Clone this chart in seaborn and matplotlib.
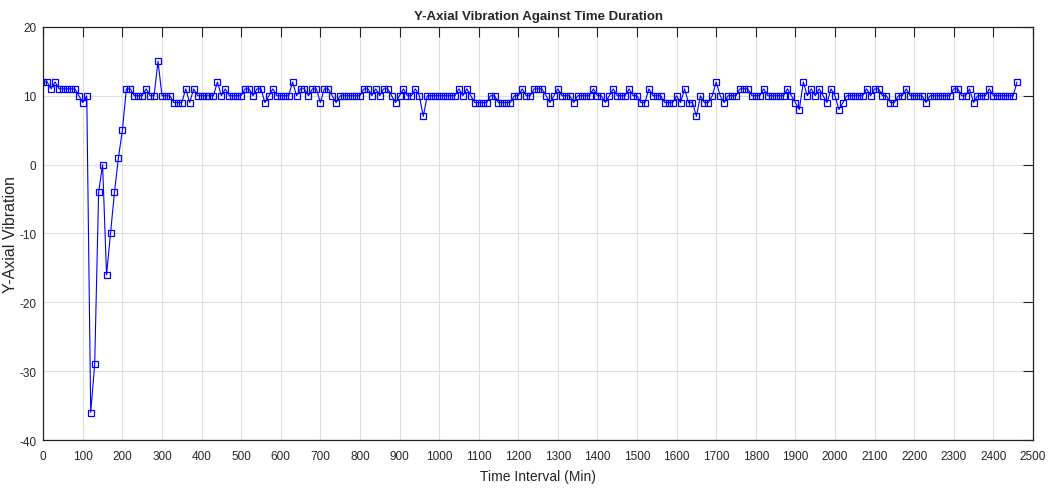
import numpy as np
import pandas as pd
import matplotlib
matplotlib.use('Agg')
import matplotlib.pyplot as plt
import seaborn as sns

# Time axis: one reading every 10 minutes
time_min = list(range(0, 2470, 10))

# Y-axial vibration readings
vib_0_290 = [12, 12, 11, 12, 11, 11, 11, 11, 11, 10, 9, 10,
             -36, -29, -4, 0, -16, -10, -4, 1, 5, 11, 11, 10, 10, 10, 11, 10, 10, 15]
vib_300_590 = [10, 10, 10, 9, 9, 9, 11, 9, 11, 10, 10, 10, 10, 10, 12, 10, 11, 10, 10, 10,
               10, 11, 11, 10, 11, 11, 9, 10, 11, 10]
vib_600_890 = [10, 10, 10, 12, 10, 11, 11, 10, 11, 11, 9, 11, 11, 10, 9, 10, 10, 10, 10, 10,
               10, 11, 11, 10, 11, 10, 11, 11, 10, 9]
vib_900_1190 = [10, 11, 10, 10, 11, 10, 7, 10, 10, 10, 10, 10, 10, 10, 10, 11, 10, 11, 10, 9,
                9, 9, 9, 10, 10, 9, 9, 9, 9, 10]
vib_1200_1490 = [10, 11, 10, 10, 11, 11, 11, 10, 9, 10, 11, 10, 10, 10, 9, 10, 10, 10, 10, 11,
                 10, 10, 9, 10, 11, 10, 10, 10, 11, 10]
vib_1500_1790 = [10, 9, 9, 11, 10, 10, 10, 9, 9, 9, 10, 9, 11, 9, 9, 7, 10, 9, 9, 10,
                 12, 10, 9, 10, 10, 10, 11, 11, 11, 10]
vib_1800_2090 = [10, 10, 11, 10, 10, 10, 10, 10, 11, 10, 9, 8, 12, 10, 11, 10, 11, 10, 9, 11,
                 10, 8, 9, 10, 10, 10, 10, 10, 11, 10]
vib_2100_2460 = [11, 11, 10, 10, 9, 9, 10, 10, 11, 10, 10, 10, 10, 9, 10, 10, 10, 10, 10, 10,
                 11, 11, 10, 10, 11, 9, 10, 10, 10, 11, 10, 10, 10, 10, 10, 10, 12]

vibration = (vib_0_290 + vib_300_590 + vib_600_890 + vib_900_1190 + vib_1200_1490
             + vib_1500_1790 + vib_1800_2090 + vib_2100_2460)

df = pd.DataFrame({'time': time_min[:len(vibration)], 'vib': vibration})

sns.set_style('white')
plt.rcParams['font.family'] = ['Liberation Sans', 'DejaVu Sans']
plt.rcParams['axes.unicode_minus'] = False

fig, ax = plt.subplots(figsize=(10.54, 4.89), dpi=100)
fig.subplots_adjust(left=0.041, right=0.980, top=0.943, bottom=0.098)

sns.lineplot(data=df, x='time', y='vib', ax=ax, color='#0000ff', linewidth=0.8,
             marker='s', markersize=5, markerfacecolor='none',
             markeredgecolor='#0000ff', markeredgewidth=0.9)

ax.set_xlim(0, 2500)
ax.set_ylim(-40, 20)
ax.set_xticks(np.arange(0, 2501, 100))
ax.set_yticks(np.arange(-40, 21, 10))
ax.grid(True, color='#e0e0e0', linewidth=0.8)
ax.tick_params(direction='in', top=True, right=True, labelsize=8.5,
               length=7, width=0.8, color='#222222')
ax.tick_params(axis='x', pad=7)
ax.tick_params(axis='y', pad=5)
for s in ax.spines.values():
    s.set_linewidth(0.9)
    s.set_color('#222222')

ax.set_title('Y-Axial Vibration Against Time Duration', fontsize=9.5, fontweight='bold', pad=6)
ax.set_xlabel('Time Interval (Min)', fontsize=10, labelpad=5)
ax.set_ylabel('Y-Axial Vibration', fontsize=11.5, labelpad=1)

plt.savefig('out.png', dpi=100)
